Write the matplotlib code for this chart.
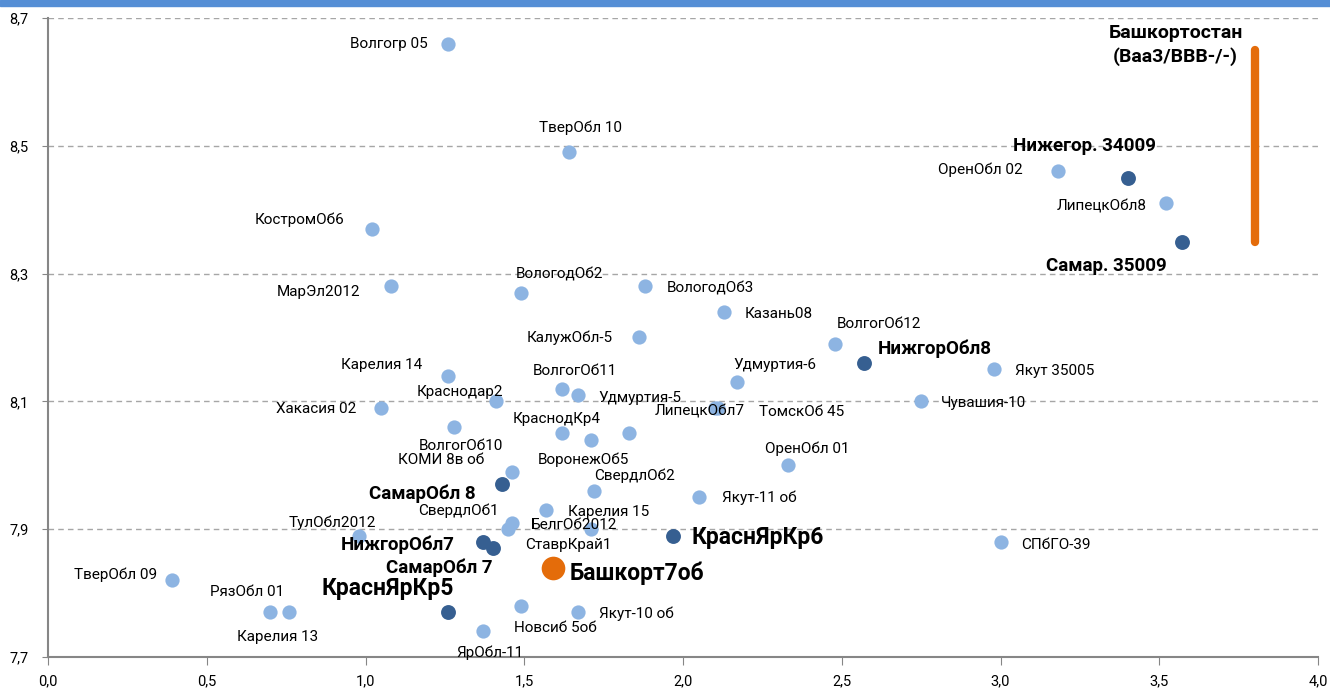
import matplotlib
matplotlib.use("Agg")
import matplotlib.pyplot as plt
from matplotlib.patches import Rectangle

plt.rcParams['font.family'] = ['Roboto', 'DejaVu Sans']

# regular issues (light blue)
light_names = ['Волгогр 05', 'ТверОбл 10', 'КостромОб6', 'МарЭл2012', 'ВологодОб2',
               'ВологодОб3', 'Казань08', 'КалужОбл-5', 'ВолгогОб12', 'Якут 35005',
               'Удмуртия-6', 'Чувашия-10', 'ЛипецкОбл7', 'ТомскОб 45', 'Хакасия 02',
               'Карелия 14', 'Краснодар2', 'ВолгогОб11', 'Удмуртия-5', 'ВолгогОб10',
               'КраснодКр4', 'ВоронежОб5', '', 'КОМИ 8в об', 'СвердлОб2',
               'Карелия 15', 'ОренОбл 01', 'Якут-11 об', 'СвердлОб1', 'БелгОб2012',
               'СтаврКрай1', 'ТулОбл2012', 'СПбГО-39', 'ТверОбл 09', 'РязОбл 01',
               'Карелия 13', 'Новсиб 5об', 'Якут-10 об', 'ЯрОбл-11', 'ОренОбл 02',
               'ЛипецкОбл8']
light_x = [1.26, 1.64, 1.02, 1.08, 1.49,
           1.88, 2.13, 1.86, 2.48, 2.98,
           2.17, 2.75, 2.10, 2.11, 1.05,
           1.26, 1.41, 1.62, 1.67, 1.28,
           1.62, 1.71, 1.83, 1.46, 1.72,
           1.57, 2.33, 2.05, 1.46, 1.45,
           1.71, 0.98, 3.00, 0.39, 0.70,
           0.76, 1.49, 1.67, 1.37, 3.18,
           3.52]
light_y = [8.66, 8.49, 8.37, 8.28, 8.27,
           8.28, 8.24, 8.20, 8.19, 8.15,
           8.13, 8.10, 8.09, 8.09, 8.09,
           8.14, 8.10, 8.12, 8.11, 8.06,
           8.05, 8.04, 8.05, 7.99, 7.96,
           7.93, 8.00, 7.95, 7.91, 7.90,
           7.90, 7.89, 7.88, 7.82, 7.77,
           7.77, 7.78, 7.77, 7.74, 8.46,
           8.41]

# highlighted peers (dark blue)
dark_names = ['НижгорОбл8', 'СамарОбл 8', 'НижгорОбл7', 'СамарОбл 7', 'КраснЯрКр5',
              'КраснЯрКр6', 'Нижегор. 34009', 'Самар. 35009']
dark_x = [2.57, 1.43, 1.37, 1.40, 1.26, 1.97, 3.40, 3.57]
dark_y = [8.16, 7.97, 7.88, 7.87, 7.77, 7.89, 8.45, 8.35]

# target issue (orange)
main_name = 'Башкорт7об'
main_x = [1.59]
main_y = [7.84]

# rating range bar
bar_label = 'Башкортостан\n(Ваа3/ВВВ-/-)'
bar_x = 3.80
bar_lo, bar_hi = 8.35, 8.65

xticks = [0.0, 0.5, 1.0, 1.5, 2.0, 2.5, 3.0, 3.5, 4.0]
yticks = [7.7, 7.9, 8.1, 8.3, 8.5, 8.7]

# label offsets in pixels (dx, dy)
offsets = {
    'Волгогр 05': (-59, 0), 'ТверОбл 10': (12, 24), 'КостромОб6': (-72, 9),
    'МарЭл2012': (-72, -6), 'ВологодОб2': (38, 18), 'ВологодОб3': (65, -2),
    'Казань08': (54, -2), 'КалужОбл-5': (-69, 0), 'ВолгогОб12': (44, 20),
    'НижгорОбл8': (71, 14), 'Якут 35005': (61, -2), 'Удмуртия-6': (38, 17),
    'Чувашия-10': (62, -2), 'ЛипецкОбл7': (-15, -4), 'ТомскОб 45': (84, -4),
    'Хакасия 02': (-65, -1), 'Карелия 14': (-66, 11), 'Краснодар2': (-36, 9),
    'ВолгогОб11': (13, 18), 'Удмуртия-5': (62, -3), 'ВолгогОб10': (7, -19),
    'КОМИ 8в об': (-70, 12), 'КраснодКр4': (-6, 14), 'ВоронежОб5': (-8, -20),
    'СвердлОб2': (40, 15), 'СамарОбл 8': (-80, -9), 'Карелия 15': (62, -2),
    'СвердлОб1': (-53, 12), 'БелгОб2012': (66, 4), 'СтаврКрай1': (-23, -16),
    'ТулОбл2012': (-27, 13), 'НижгорОбл7': (-85, -3), 'СамарОбл 7': (-53, -19),
    'КраснЯрКр5': (-60, 24), 'КраснЯрКр6': (84, -2), 'Башкорт7об': (84, -6),
    'СПбГО-39': (55, -3), 'ОренОбл 01': (19, 17), 'Якут-11 об': (60, -1),
    'ТверОбл 09': (-56, 6), 'РязОбл 01': (-23, 20), 'Карелия 13': (-12, -25),
    'Новсиб 5об': (34, -22), 'Якут-10 об': (58, -2), 'ЯрОбл-11': (7, -21),
    'ОренОбл 02': (-77, 2), 'Нижегор. 34009': (-43, 32), 'ЛипецкОбл8': (-64, -3),
    'Самар. 35009': (-75, -24),
}
big_labels = ['КраснЯрКр5', 'КраснЯрКр6', 'Башкорт7об']

fig = plt.figure(figsize=(13.3, 6.88), dpi=100)
ax = fig.add_axes([0.0361, 0.0451, 0.9549, 0.9287])

# header band
fig.patches.append(Rectangle((0, 0.991), 1, 0.009, transform=fig.transFigure,
                             color='#558ED5', zorder=0))

ax.scatter(light_x, light_y, s=105, color='#8DB4E2', zorder=3, linewidths=0)
ax.scatter(dark_x, dark_y, s=115, color='#365F91', zorder=4, linewidths=0)
ax.scatter(main_x, main_y, s=290, color='#E46C0A', zorder=5, linewidths=0)
ax.plot([bar_x, bar_x], [bar_lo, bar_hi], color='#E46C0A', lw=6,
        solid_capstyle='round', zorder=3)

def label(name, x, y, size, weight):
    if not name:
        return
    dx, dy = offsets[name]
    ax.annotate(name, (x, y), xytext=(dx, dy), textcoords='offset pixels',
                ha='center', va='center', fontsize=size, fontweight=weight,
                color='black', zorder=6)

for n, x, y in zip(light_names, light_x, light_y):
    label(n, x, y, 11, 'normal')
for n, x, y in zip(dark_names, dark_x, dark_y):
    if n in big_labels:
        label(n, x, y, 16.5, 'bold')
    else:
        label(n, x, y, 13.5, 'bold')
label(main_name, main_x[0], main_y[0], 16.5, 'bold')

ax.annotate(bar_label, (bar_x, bar_hi), xytext=(-79, 5), textcoords='offset pixels',
            ha='center', va='center', fontsize=14, fontweight='bold',
            linespacing=1.3)

ax.set_xlim(0, 4)
ax.set_ylim(7.7, 8.7)
ax.set_xticks(xticks)
ax.set_yticks(yticks)
ax.set_xticklabels([f'{t:.1f}'.replace('.', ',') for t in xticks], fontsize=10.5)
ax.set_yticklabels([f'{t:.1f}'.replace('.', ',') for t in yticks], fontsize=10.5)
ax.tick_params(axis='x', direction='out', length=5.5, color='#868686', pad=7)
ax.tick_params(axis='y', direction='out', length=4, color='#868686', pad=10)

ax.grid(axis='y', linestyle=(0, (4, 3)), color='#A6A6A6', lw=1)
ax.set_axisbelow(True)
for s in ['top', 'right']:
    ax.spines[s].set_visible(False)
ax.spines['left'].set_color('#868686')
ax.spines['bottom'].set_color('#868686')
ax.spines['left'].set_linewidth(1.5)
ax.spines['bottom'].set_linewidth(1.5)

plt.savefig('out.png', dpi=100)
